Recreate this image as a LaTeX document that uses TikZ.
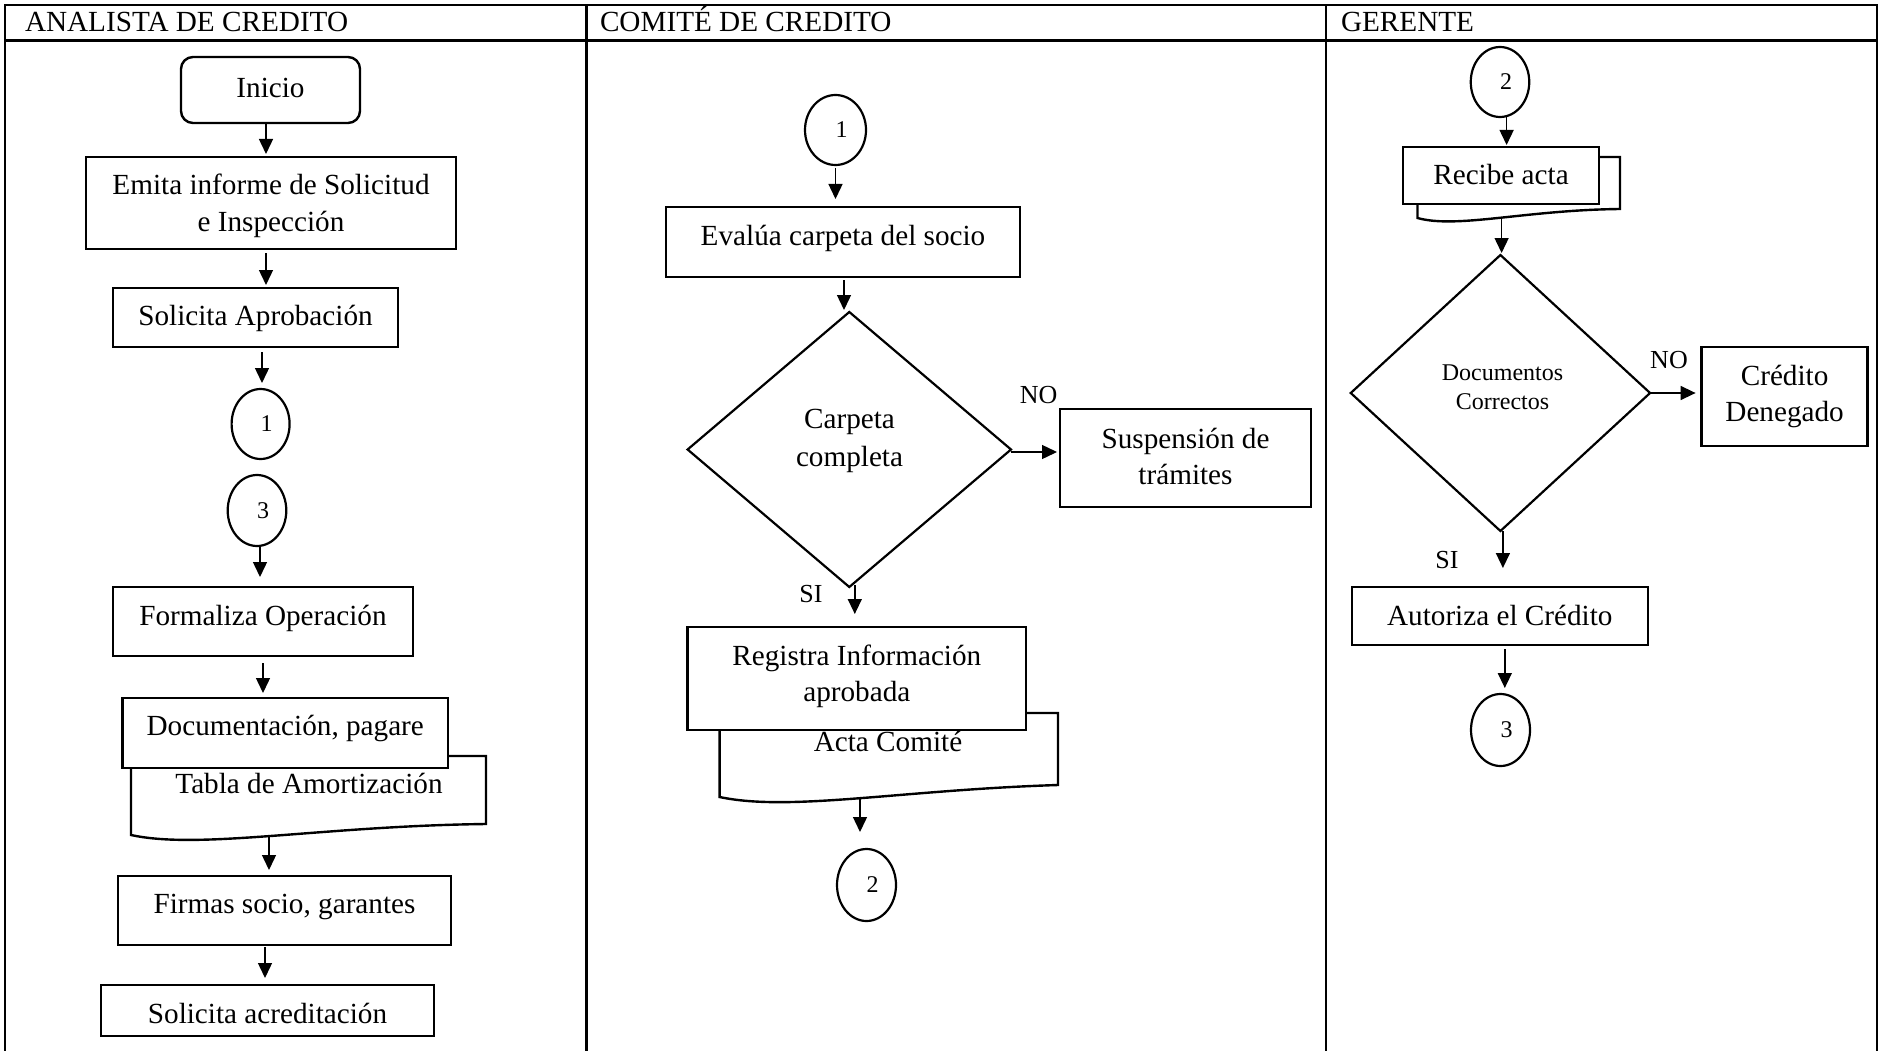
\documentclass[tikz,border=0pt]{standalone}
\usepackage{fontspec}
\setmainfont{Liberation Serif}
\usetikzlibrary{shapes.geometric,arrows.meta}

% two centred lines whose baseline is the first line
\newcommand\twoline[2]{\begin{tabular}[t]{@{}c@{}}#1\\#2\end{tabular}}

\begin{document}
\begin{tikzpicture}[x=1pt, y=-1pt,
  every node/.style={inner sep=0pt, outer sep=0pt},
  txt/.style={font=\fontsize{29.2}{36}\selectfont},
  smalltxt/.style={font=\fontsize{24}{29}\selectfont},
  labtxt/.style={font=\fontsize{26}{31}\selectfont},
  frame/.style={line width=2.4pt},
  proc/.style={draw, line width=2.4pt, fill=white, txt, text height=38pt},
  docback/.style={draw, line width=2.4pt, fill=white, line join=miter},
  conn/.style={ellipse, draw, line width=2.2pt, fill=white, smalltxt},
  decision/.style={diamond, draw, line width=2.2pt},
  flow/.style={-{Triangle[length=15pt,width=14pt]}, line width=1.4pt},
]
\useasboundingbox (0,0) rectangle (1886,1051);

% swimlane frame
\draw[frame] (5,5) rectangle (1877,1070);
\draw[frame] (5,40.5) -- (1877,40.5);
\draw[frame] (586.5,5) -- (586.5,1070);
\draw[frame] (1326,5) -- (1326,1070);

\node[txt, anchor=base west] (lane1) at (25,32) {ANALISTA DE CREDITO};
\node[txt, anchor=base west] (lane2) at (600,32) {COMITÉ DE CREDITO};
\node[txt, anchor=base west] (lane3) at (1341,32) {GERENTE};

% ---- Analista de credito
\node[proc, rounded corners=12pt, minimum width=179pt, text height=41pt, text depth=25pt] (ini) at (270.5,90) {Inicio};
\node[proc, minimum width=370pt, text depth=54pt] (emi) at (271,203) {\twoline{Emita informe de Solicitud}{e Inspección}};
\node[proc, minimum width=285pt, text height=37pt, text depth=22pt] (sap) at (255.5,317.5) {Solicita Aprobación};
\node[conn, minimum width=58pt, minimum height=70pt] (k1a) at (260.6,424) {\kern12pt 1};
\node[conn, minimum width=58.6pt, minimum height=71pt] (k3a) at (257,510.5) {\kern12pt 3};
\node[proc, minimum width=300pt, text depth=31pt] (frm) at (263,621.5) {Formaliza Operación};
\draw[docback] (131,756) -- (486,756) -- (486,824) .. controls (320,826) and (200,850) .. (131,835) -- cycle;
\node[txt, anchor=base] (tabla) at (309,793) {Tabla de Amortización};
\node[proc, minimum width=325.5pt, text height=37pt, text depth=33pt] (doc) at (285.25,733) {Documentación, pagare};
\coordinate (docw) at (269,836);
\node[proc, minimum width=333pt, text height=37pt, text depth=32pt] (fir) at (284.5,910.5) {Firmas socio, garantes};
\node[proc, minimum width=333pt, text depth=13pt] (sac) at (267.5,1010.5) {Solicita acreditación};

\draw[flow, shorten >=3pt] ([xshift=-4.5pt]ini.south) -- ([xshift=-4.5pt]ini.south |- emi.north);
\draw[flow, shorten <=4pt, shorten >=3pt] ([xshift=-5pt]emi.south) -- ([xshift=-5pt]emi.south |- sap.north);
\draw[flow, shorten <=5pt, shorten >=6pt] ([xshift=6.5pt]sap.south) -- ([xshift=6.5pt]sap.south |- k1a.north);
\draw[flow, shorten >=10pt] ([xshift=3pt]k3a.south) -- ([xshift=3pt]k3a.south |- frm.north);
\draw[flow, shorten <=7pt, shorten >=5pt] (frm.south) -- (frm.south |- doc.north);
\draw[flow, shorten >=6pt] (docw) -- (docw |- fir.north);
\draw[flow, shorten <=2pt, shorten >=7pt] ([xshift=-19.5pt]fir.south) -- ([xshift=-19.5pt]fir.south |- sac.north);

% ---- Comite de credito
\node[conn, minimum width=61pt, minimum height=70pt] (k1b) at (835.5,130) {\kern12pt 1};
\node[proc, minimum width=354pt, text depth=32pt] (eva) at (843,242) {Evalúa carpeta del socio};
\node[decision, minimum width=323.4pt, minimum height=275pt] (d1) at (849.3,449.5) {};
\node[font=\fontsize{29.2}{38}\selectfont, anchor=base] (d1t) at (849.5,428) {\twoline{Carpeta}{completa}};
\node[proc, minimum width=251pt, text height=39pt, text depth=59pt] (sus) at (1185.5,458) {\twoline{Suspensión de}{trámites}};
\node[labtxt, anchor=base] (no1) at (1038.7,403) {NO};
\node[labtxt, anchor=base] (si1) at (811,602) {SI};
\draw[docback] (719.6,713) -- (1058,713) -- (1058,785) .. controls (900,790) and (790,812) .. (719.6,797) -- cycle;
\node[txt, anchor=base] (acta) at (888,751) {Acta Comité};
\node[proc, minimum width=338.4pt, text depth=65pt] (reg) at (856.8,678.5) {\twoline{Registra Información}{aprobada}};
\coordinate (regw) at (860,798);
\node[conn, minimum width=59pt, minimum height=72pt] (k2b) at (866.5,885) {\kern12pt 2};

\draw[flow, shorten <=3pt, shorten >=8pt] (k1b.south) -- (k1b.south |- eva.north);
\draw[flow, shorten <=3pt, shorten >=2pt] ([xshift=1pt]eva.south) -- ([xshift=1pt]eva.south |- d1.north);
\draw[flow, shorten >=3pt] ([yshift=-2.5pt]d1.east) -- ([yshift=-2.5pt]d1.east -| sus.west);
\draw[flow, shorten <=-2pt, shorten >=13pt] ([xshift=5.5pt]d1.south) -- ([xshift=5.5pt]d1.south |- reg.north);
\draw[flow, shorten >=17pt] (regw) -- (regw |- k2b.north);

% ---- Gerente
\node[conn, minimum width=58.5pt, minimum height=70pt] (k2c) at (1500,82) {\kern12pt 2};
\draw[docback] (1417.5,157) -- (1620,157) -- (1620,209) .. controls (1525,210) and (1457,229) .. (1417.5,218) -- cycle;
\node[proc, minimum width=196pt, text depth=19pt] (rec) at (1501,175.5) {Recibe acta};
\coordinate (recw) at (1501.6,219);
\node[decision, minimum width=299.3pt, minimum height=276pt] (d2) at (1500.4,393) {};
\node[smalltxt, anchor=base] (d2t) at (1502.5,380) {\twoline{Documentos}{Correctos}};
\node[proc, minimum width=166pt, text depth=61pt] (den) at (1784.6,396.5) {\twoline{Crédito}{Denegado}};
\node[labtxt, anchor=base] (no2) at (1669,368) {NO};
\node[labtxt, anchor=base] (si2) at (1447,568) {SI};
\node[proc, minimum width=296pt, text depth=20pt] (aut) at (1499.8,616) {Autoriza el Crédito};
\node[conn, minimum width=59pt, minimum height=72pt] (k3c) at (1500.5,730) {\kern12pt 3};

\draw[flow, shorten >=2pt] ([xshift=6.6pt]k2c.south) -- ([xshift=6.6pt]k2c.south |- rec.north);
\draw[flow, shorten >=2pt] (recw) -- (recw |- d2.north);
\draw[flow, shorten >=6pt] (d2.east) -- (d2.east -| den.west);
\draw[flow, shorten >=19pt] ([xshift=2.5pt]d2.south) -- ([xshift=2.5pt]d2.south |- aut.north);
\draw[flow, shorten <=4pt, shorten >=6pt] ([xshift=5pt]aut.south) -- ([xshift=5pt]aut.south |- k3c.north);
\end{tikzpicture}
\end{document}
